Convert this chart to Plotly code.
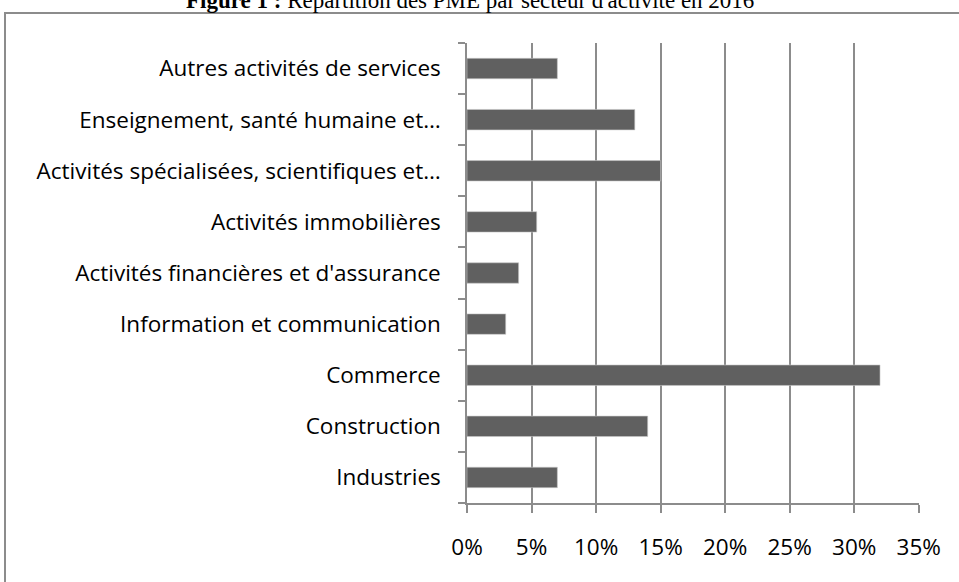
import plotly.graph_objects as go

categories = [
    "Industries",
    "Construction",
    "Commerce",
    "Information et communication",
    "Activités financières et d'assurance",
    "Activités immobilières",
    "Activités spécialisées, scientifiques et…",
    "Enseignement, santé humaine et…",
    "Autres activités de services",
]
values = [0.07, 0.14, 0.32, 0.03, 0.04, 0.054, 0.15, 0.13, 0.07]
x_ticks = [0, 0.05, 0.10, 0.15, 0.20, 0.25, 0.30, 0.35]

W, H = 959, 582
L, R, T, B = 467, 40, 43, 79

fig = go.Figure(go.Bar(
    y=categories, x=values, orientation="h",
    marker=dict(color="#606060", line=dict(color="#c8c8c8", width=0.6)),
    width=0.4,
))

label_font = dict(family="Open Sans", size=22.5, color="#000000")

fig.update_layout(
    width=W, height=H,
    margin=dict(l=L, r=R, t=T, b=B),
    paper_bgcolor="white", plot_bgcolor="white",
    showlegend=False,
    bargap=0.6,
    xaxis=dict(
        range=[0, 0.3502], tickvals=x_ticks, tickformat=".0%",
        showgrid=True, gridcolor="#8c8c8c", gridwidth=1.5,
        showline=True, linecolor="#8c8c8c", linewidth=1.5,
        ticks="outside", ticklen=8, tickcolor="#8c8c8c", tickwidth=1.5,
        ticklabelstandoff=15, tickfont=label_font, zeroline=False,
    ),
    yaxis=dict(
        type="category",
        showgrid=False,
        showline=True, linecolor="#8c8c8c", linewidth=1.5,
        ticks="outside", ticklen=7, tickcolor="#8c8c8c", tickwidth=1.5,
        tickson="boundaries", ticklabelstandoff=20, tickfont=label_font,
    ),
)

# outer frame
fig.add_shape(type="rect", xref="paper", yref="paper",
              x0=(5 - L) / (W - L - R), x1=(975 - L) / (W - L - R),
              y0=(H - B - 600) / (H - T - B), y1=(H - B - 13) / (H - T - B),
              line=dict(color="#8c8c8c", width=2), fillcolor="rgba(0,0,0,0)", layer="below")

# title (cut off at top)
fig.add_annotation(
    xref="paper", yref="paper",
    x=(470 - L) / (W - L - R), y=(H - B - 10) / (H - T - B),
    xanchor="center", yanchor="bottom", showarrow=False,
    text="<b>Figure 1 :</b> Répartition des PME par secteur d'activité en 2016",
    font=dict(family="Liberation Serif", size=23, color="#000000"),
    yshift=-5,
)

fig.write_html("out.html", config={"displayModeBar": False},
               post_script="document.body.style.margin='0px';")
